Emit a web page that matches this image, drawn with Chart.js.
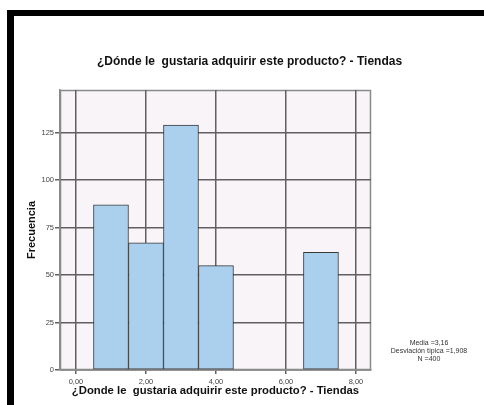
<!DOCTYPE html>
<html>
<head>
<meta charset="utf-8">
<script src="https://cdn.jsdelivr.net/npm/chart.js@4"></script>
<style>
  body { margin: 0; background: #fff; }
  #wrap { position: relative; width: 484px; height: 405px; }
  .edge { position: absolute; background: #000; }
  canvas { position: absolute; left: 0; top: 0; }
</style>
</head>
<body>
<div id="wrap">
  <div class="edge" style="left:7px;top:10px;width:477px;height:6px"></div>
  <div class="edge" style="left:7px;top:10px;width:7px;height:395px"></div>
  <canvas id="hist" width="484" height="405"></canvas>
</div>
<script>
// bin centres and counts
const binCentres = [1, 2, 3, 4, 7];
const frequencies = [87, 67, 129, 55, 62];
const xTicks = [0, 2, 4, 6, 8];
const yTicks = [0, 25, 50, 75, 100, 125];
const statsLines = ['Media =3,16', 'Desviación típica =1,908', 'N =400'];

const titleText = '¿Dónde le  gustaria adquirir este producto? - Tiendas';
const xTitle = '¿Donde le  gustaria adquirir este producto? - Tiendas';

const gridColor = '#606060';
const font = 'Liberation Sans, Arial, sans-serif';

// plot background + frame, drawn before the grid so the bars cover the lines
const plotFrame = {
    id: 'plotFrame',
    beforeDraw(chart) {
        const {ctx, chartArea: a} = chart;
        ctx.save();
        ctx.fillStyle = '#f8f4f8';
        ctx.fillRect(a.left, a.top, a.right - a.left, a.bottom - a.top);
        ctx.strokeStyle = '#8a8a8a';
        ctx.lineWidth = 1.5;
        ctx.strokeRect(a.left + 0.5, a.top + 0.5, a.right - a.left - 1, a.bottom - a.top - 1);
        ctx.restore();
    },
    afterDraw(chart) {
        const ctx = chart.ctx;
        ctx.save();
        ctx.fillStyle = '#333';
        ctx.font = '7px ' + font;
        ctx.textAlign = 'center';
        ctx.textBaseline = 'middle';
        statsLines.forEach((t, i) => ctx.fillText(t, 429, 343 + i * 8));
        ctx.restore();
    }
};

new Chart(document.getElementById('hist'), {
    type: 'bar',
    data: {
        datasets: [{
            data: binCentres.map((x, i) => ({x, y: frequencies[i]})),
            backgroundColor: '#abd0ee',
            borderColor: '#3a3a3a',
            borderWidth: 1,
            borderSkipped: false,
            barPercentage: 1,
            categoryPercentage: 1
        }]
    },
    options: {
        responsive: false,
        animation: false,
        layout: {padding: {left: 15, right: 0, top: 0, bottom: 0}},
        plugins: {
            legend: {display: false},
            tooltip: {enabled: false},
            title: {
                display: true,
                text: titleText,
                color: '#111',
                font: {family: font, size: 12, weight: 'bold'},
                padding: {top: 54, bottom: 21.6}
            }
        },
        scales: {
            x: {
                type: 'linear',
                min: -0.457,
                max: 8.43,
                offset: false,
                afterBuildTicks: s => { s.ticks = xTicks.map(v => ({value: v})); },
                afterFit: s => { s.height = 35; },
                grid: {color: gridColor, tickColor: gridColor, lineWidth: 1.5, tickLength: 4, offset: false},
                border: {color: '#8a8a8a', width: 1.5},
                ticks: {
                    color: '#444',
                    font: {family: font, size: 7.5},
                    padding: 3,
                    maxRotation: 0,
                    callback: v => v.toFixed(2).replace('.', ',')
                },
                title: {
                    display: true,
                    text: xTitle,
                    color: '#111',
                    font: {family: font, size: 11.3, weight: 'bold'},
                    padding: {top: 0, bottom: 7}
                }
            },
            y: {
                min: 0,
                max: 147.5,
                afterBuildTicks: s => { s.ticks = yTicks.map(v => ({value: v})); },
                afterFit: s => { s.width = 45; },
                grid: {color: gridColor, tickColor: gridColor, lineWidth: 1.5, tickLength: 5},
                border: {color: '#8a8a8a', width: 1.5},
                ticks: {color: '#444', font: {family: font, size: 7.5}, padding: 1},
                title: {
                    display: true,
                    text: 'Frecuencia',
                    color: '#111',
                    font: {family: font, size: 11, weight: 'bold'},
                    padding: {top: 10.4, bottom: 0}
                }
            },
            side: {
                position: 'right',
                afterFit: s => { s.width = 113; },
                grid: {display: false},
                border: {display: false},
                ticks: {display: false}
            }
        }
    },
    plugins: [plotFrame]
});
</script>
</body>
</html>
